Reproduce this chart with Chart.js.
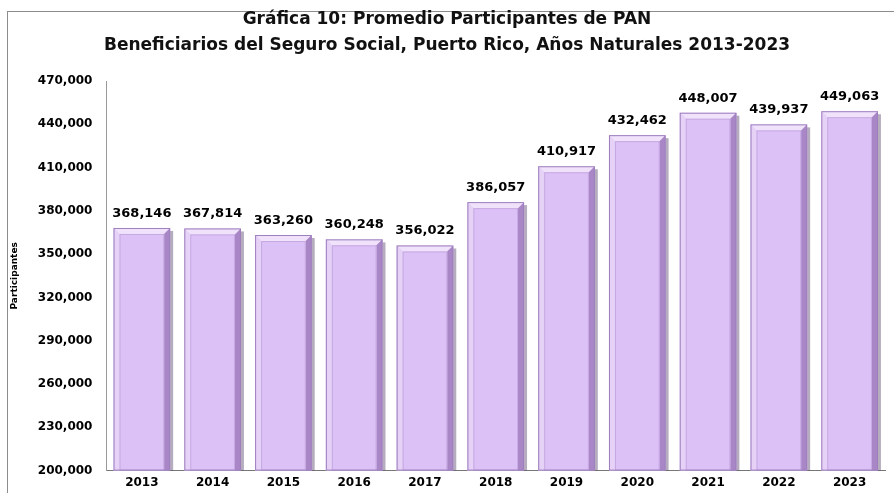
<!DOCTYPE html>
<html>
<head>
<meta charset="utf-8">
<script src="https://cdn.jsdelivr.net/npm/chart.js@4/dist/chart.umd.min.js"></script>
<style>
  body { margin: 0; background: #fff; }
  #wrap { width: 894px; height: 493px; }
</style>
</head>
<body>
<div id="wrap"><canvas id="myChart"></canvas></div>
<script>
// datos de la grafica
const anios = ['2013', '2014', '2015', '2016', '2017', '2018', '2019', '2020', '2021', '2022', '2023'];
const participantes = [368146, 367814, 363260, 360248, 356022, 386057, 410917, 432462, 448007, 439937, 449063];
const tituloLineas = ['Gráfica 10: Promedio Participantes de PAN', 'Beneficiarios del Seguro Social, Puerto Rico, Años Naturales 2013-2023'];
const ejeY = { min: 200000, max: 470000, paso: 30000 };

const fuente = "'DejaVu Sans', sans-serif";

// marco gris alrededor de la grafica
const marco = {
    id: 'marco',
    beforeDraw(chart) {
        const ctx = chart.ctx;
        ctx.save();
        ctx.strokeStyle = '#8c8c8c';
        ctx.lineWidth = 1;
        ctx.strokeRect(7.5, 11.5, 900, 500);
        ctx.restore();
    }
};

// efecto de bisel en cada barra + etiquetas de valor
const bisel = {
    id: 'bisel',
    afterDatasetsDraw(chart) {
        const ctx = chart.ctx;
        const meta = chart.getDatasetMeta(0);
        const fondo = chart.chartArea.bottom;
        ctx.save();
        meta.data.forEach((bar, i) => {
            const w = bar.width;
            const l = bar.x - w / 2, r = bar.x + w / 2;
            const t = bar.y, b = Math.min(bar.base, fondo);
            const k = 6;
            // sombra derecha
            ctx.fillStyle = 'rgba(90,70,110,0.45)';
            ctx.fillRect(r, t + 3, 3, b - t - 3);
            // bordes del bisel
            ctx.fillStyle = '#f0e2fb';
            ctx.beginPath();
            ctx.moveTo(l, t); ctx.lineTo(r, t); ctx.lineTo(r - k, t + k); ctx.lineTo(l + k, t + k); ctx.closePath();
            ctx.fill();
            ctx.fillStyle = '#e6d2f7';
            ctx.beginPath();
            ctx.moveTo(l, t); ctx.lineTo(l + k, t + k); ctx.lineTo(l + k, b); ctx.lineTo(l, b); ctx.closePath();
            ctx.fill();
            ctx.fillStyle = '#a987c7';
            ctx.beginPath();
            ctx.moveTo(r, t); ctx.lineTo(r, b); ctx.lineTo(r - k, b); ctx.lineTo(r - k, t + k); ctx.closePath();
            ctx.fill();
            ctx.strokeStyle = '#c6a9e2';
            ctx.lineWidth = 1;
            ctx.strokeRect(l + k + 0.5, t + k + 0.5, w - 2 * k - 1, b - t - k - 1);
            ctx.strokeStyle = '#9e7fbd';
            ctx.strokeRect(l + 0.5, t + 0.5, w - 1, b - t - 1);

            // etiqueta
            ctx.fillStyle = '#000';
            ctx.font = 'bold 13px ' + fuente;
            ctx.textAlign = 'center';
            ctx.textBaseline = 'bottom';
            ctx.fillText(participantes[i].toLocaleString('en-US'), bar.x, t - 8);
        });
        ctx.restore();
    }
};

window.onload = () => {
    const ctx = document.getElementById('myChart');
    const data = {
        labels: anios,
        datasets: [{
            label: 'Participantes',
            data: participantes,
            backgroundColor: '#dcc1f6',
            borderWidth: 0,
            barPercentage: 0.8,
            categoryPercentage: 1.0
        }]
    };

    new Chart(ctx, {
        type: 'bar',
        data: data,
        plugins: [marco, bisel],
        options: {
            responsive: true,
            maintainAspectRatio: false,
            animation: false,
            layout: { padding: { left: 9, right: 9, top: 2, bottom: -2 } },
            plugins: {
                legend: { display: false },
                tooltip: { enabled: false },
                title: {
                    display: true,
                    text: tituloLineas,
                    color: '#111',
                    font: { family: fuente, size: 17, weight: 'bold', lineHeight: 1.5 },
                    padding: { top: 5, bottom: 23 }
                }
            },
            scales: {
                x: {
                    grid: { display: false, drawTicks: false },
                    border: { color: '#777', width: 1 },
                    ticks: { color: '#000', font: { family: fuente, size: 12, weight: 'bold' }, padding: 5 }
                },
                y: {
                    min: ejeY.min,
                    max: ejeY.max,
                    grid: { display: false, drawTicks: false },
                    border: { color: '#999', width: 1 },
                    ticks: {
                        stepSize: ejeY.paso,
                        color: '#000',
                        padding: 14,
                        font: { family: fuente, size: 12, weight: 'bold' },
                        callback: (v) => v.toLocaleString('en-US')
                    },
                    title: {
                        display: true,
                        text: 'Participantes',
                        color: '#000',
                        font: { family: fuente, size: 9, weight: 'bold' },
                        padding: { top: 0, bottom: 4 }
                    }
                }
            }
        }
    });
};
</script>
</body>
</html>
